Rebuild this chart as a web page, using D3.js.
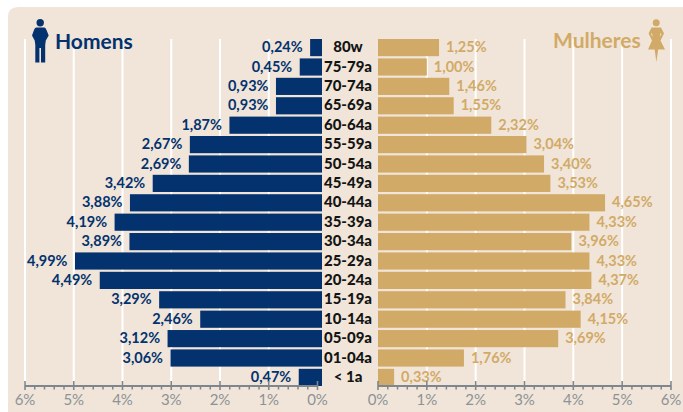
<!DOCTYPE html>
<html><head><meta charset="utf-8">
<script src="https://cdn.jsdelivr.net/npm/d3@7"></script>
<style>html,body{margin:0;padding:0;background:#fff}svg{display:block}text{font-family:"Lato",sans-serif}</style>
</head><body><svg id="c" width="683" height="412"></svg>
<script>
const ages=["80w","75-79a","70-74a","65-69a","60-64a","55-59a","50-54a","45-49a","40-44a","35-39a","30-34a","25-29a","20-24a","15-19a","10-14a","05-09a","01-04a","< 1a"];
const homens=[0.24,0.45,0.93,0.93,1.87,2.67,2.69,3.42,3.88,4.19,3.89,4.99,4.49,3.29,2.46,3.12,3.06,0.47];
const mulheres=[1.25,1.00,1.46,1.55,2.32,3.04,3.40,3.53,4.65,4.33,3.96,4.33,4.37,3.84,4.15,3.69,1.76,0.33];
const axisTicks=[0,1,2,3,4,5,6];
const navy="#03326e",gold="#d2aa67",gray="#7f868d",bg="#f0e5d8";
const svg=d3.select("#c");
const fmt=v=>v.toFixed(2).replace(".",",")+"%";

svg.append("path").attr("fill",bg)
 .attr("d","M8,412V17Q8,7 18,7H683V412Z");

const y=d3.scaleBand().domain(ages).range([39,386]).paddingInner(0.115).paddingOuter(0);
const hBar=d3.scaleLinear().domain([0,6]).range([322,25]);
const mBar=d3.scaleLinear().domain([0,6]).range([378,671]);
const hAxis=d3.scaleLinear().domain([0,6]).range([317.5,25]);
const mAxis=mBar;
const axisY=386;

[hAxis,mAxis].forEach(s=>{
 svg.append("g").selectAll("line").data(axisTicks.slice(1)).join("line")
  .attr("x1",d=>s(d)).attr("x2",d=>s(d)).attr("y1",39).attr("y2",axisY)
  .attr("stroke","#fff").attr("stroke-width",2);
});

svg.append("g").selectAll("rect").data(homens).join("rect")
 .attr("x",d=>hBar(d)).attr("width",d=>hBar(0)-hBar(d))
 .attr("y",(d,i)=>y(ages[i])).attr("height",y.bandwidth()).attr("fill",navy);
svg.append("g").selectAll("rect").data(mulheres).join("rect")
 .attr("x",mBar(0)).attr("width",d=>mBar(d)-mBar(0))
 .attr("y",(d,i)=>y(ages[i])).attr("height",y.bandwidth()).attr("fill",gold);

svg.append("g").selectAll("text").data(homens).join("text")
 .attr("x",d=>hBar(d)-7.5).attr("y",(d,i)=>y(ages[i])+y.bandwidth()/2+4.6)
 .attr("text-anchor","end").attr("font-size",14.5).attr("font-weight",700).attr("fill",navy).text(fmt);
svg.append("g").selectAll("text").data(mulheres).join("text")
 .attr("x",d=>mBar(d)+7).attr("y",(d,i)=>y(ages[i])+y.bandwidth()/2+4.6)
 .attr("text-anchor","start").attr("font-size",14.5).attr("font-weight",700).attr("fill",gold).text(fmt);

svg.append("g").selectAll("text").data(ages).join("text")
 .attr("x",348).attr("y",d=>y(d)+y.bandwidth()/2+4.6)
 .attr("text-anchor","middle").attr("font-size",15).attr("font-weight",900).attr("fill","#141414").text(d=>d);

[hAxis,mAxis].forEach(s=>{
 const g=svg.append("g").attr("stroke",gray);
 g.append("line").attr("x1",s(0)).attr("x2",s(6)).attr("y1",axisY).attr("y2",axisY).attr("stroke-width",1.8);
 const minor=d3.range(0,30).filter(i=>i%5).map(i=>i/5);
 g.selectAll("line.minor").data(minor).join("line").attr("class","minor")
  .attr("x1",d=>s(d)).attr("x2",d=>s(d)).attr("y1",axisY).attr("y2",axisY+3.5).attr("stroke-width",1.5);
 g.selectAll("line.major").data(axisTicks).join("line").attr("class","major")
  .attr("x1",d=>s(d)).attr("x2",d=>s(d)).attr("y1",axisY-5).attr("y2",axisY+4).attr("stroke-width",1.6);
 svg.append("g").selectAll("text").data(axisTicks).join("text")
  .attr("x",d=>s(d)).attr("y",405).attr("text-anchor","middle")
  .attr("font-size",15).attr("fill","#8d9297").text(d=>d+"%");
});

svg.append("text").attr("x",55).attr("y",49).attr("font-size",21).attr("font-weight",700).attr("fill",navy).text("Homens");
svg.append("text").attr("x",553).attr("y",48).attr("font-size",21).attr("font-weight",700).attr("fill",gold).text("Mulheres");

const man=svg.append("g").attr("fill",navy);
man.append("circle").attr("cx",40.2).attr("cy",22.8).attr("r",3.7);
man.append("path").attr("d","M36,27.5H44.5Q46,28 46.5,30L48.7,35.5L45.8,40.5L45.2,45V62.5H41V48H39.4V62.5H35.3V45L34.7,40.5L32,35.5L34,30Q34.5,28 36,27.5Z");
const wom=svg.append("g").attr("fill",gold);
wom.append("circle").attr("cx",656.2).attr("cy",22.8).attr("r",3.5);
wom.append("path").attr("fill-rule","evenodd").attr("d","M651.5,27.5H661L664,33.5L660.5,40.5L665,49.5H658.2L656.4,62L654.6,49.5H648L652,40.5L648.6,33.5ZM652,33L651,34L652.8,37ZM660.5,33L661.5,34L659.7,37Z");
</script></body></html>
